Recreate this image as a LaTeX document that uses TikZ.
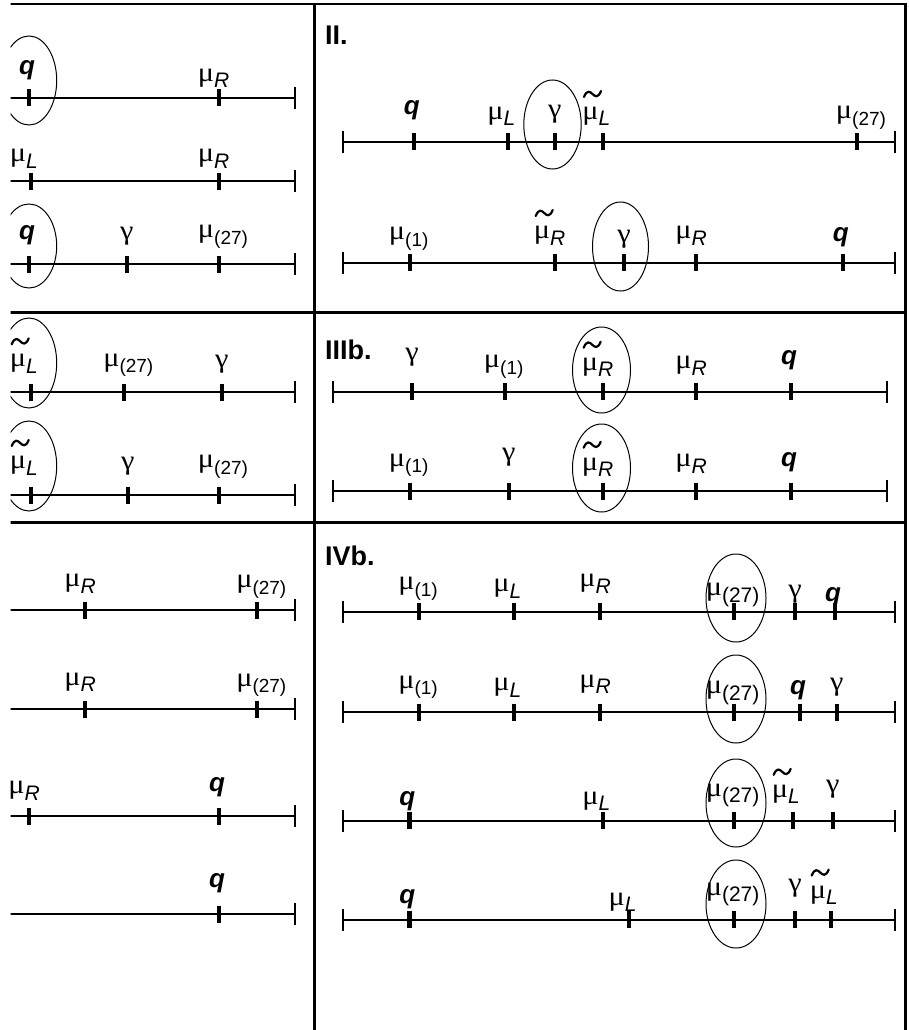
\documentclass[tikz,border=0pt]{standalone}
\usepackage{graphicx}
\usepackage{fontspec}
\setmainfont{Liberation Sans}
\newfontfamily\grk{Liberation Serif}
\newcounter{lc}
\newcommand\gfont{\grk\fontsize{27}{30}\selectfont}
\newcommand\qfont{\fontsize{26}{30}\selectfont\bfseries\itshape}
\newcommand\lfont{\fontsize{21}{24}\selectfont\itshape}
\newcommand\nfont{\fontsize{19}{22}\selectfont}
\newcommand\cfont{\fontsize{21}{24}\selectfont}
\newcommand\gmu{{\gfont\scalebox{1.12}[1]{μ}}}
\newcommand\ggam{{\gfont\scalebox{1.12}[1]{γ}}}
\tikzset{
  frame/.style={line width=2.5pt},
  axisline/.style={line width=2pt},
  endtick/.style={line width=1.8pt},
  mtick/.style={line width=4.2pt},
  oval/.style={line width=1pt},
  lab/.style={inner sep=0pt,outer sep=0pt,anchor=base},
  head/.style={inner sep=0pt,anchor=base west,font=\fontsize{27}{30}\selectfont\bfseries},
  tildemark/.style={line width=2.2pt,line cap=round},
}
\newcommand\axL[1]{\draw[axisline] (10,#1) -- (294.7,#1); \draw[endtick] (294.7,#1-11) -- (294.7,#1+11);}
\newcommand\axR[3]{\draw[axisline] (#2,#1) -- (#3,#1); \draw[endtick] (#2,#1-11) -- (#2,#1+11); \draw[endtick] (#3,#1-11) -- (#3,#1+11);}
\newcommand\tk[2]{\draw[mtick] (#1,#2-8.5) -- (#1,#2+8.5);}
\newcommand\ov[4]{\draw[oval] (#1,#2) ellipse [x radius=#3pt, y radius=#4pt];}
\newcommand\Lq[3]{\tk{#1}{#2}\stepcounter{lc}\node[lab,font=\qfont] (n\thelc) at (#1-2,#2-#3-5.5) {q};}
\newcommand\Lg[3]{\tk{#1}{#2}\stepcounter{lc}\node[lab] (n\thelc) at (#1,#2-#3-5.8) {\ggam};}
\newcommand\Lm[4]{\tk{#1}{#2}\stepcounter{lc}\node[lab] (n\thelc) at (#1-4.5,#2-#3-6.5) {\makebox[0pt][r]{\gmu}\makebox[0pt][l]{\raisebox{-6.5pt}{\lfont #4}}};}
\newcommand\Ln[4]{\tk{#1}{#2}\stepcounter{lc}\node[lab] (n\thelc) at (#1-4.5,#2-#3-10.5) {\makebox[0pt][r]{\gmu}\makebox[0pt][l]{\raisebox{-6.5pt}{\nfont (#4)}}};}
\newcommand\Lc[3]{\tk{#1}{#2}\stepcounter{lc}\node[lab] (n\thelc) at (#1-12,#2-#3-11) {\makebox[0pt][r]{\gmu}\makebox[0pt][l]{\raisebox{-6.5pt}{\cfont (27)}}};}
\newcommand\Lt[4]{\Lm{#1}{#2}{#3}{#4}\draw[tildemark] (#1-19,#2-#3-32+3) .. controls (#1-16,#2-#3-32-4.5) and (#1-13,#2-#3-32-2.5) .. (#1-10.5,#2-#3-32) .. controls (#1-8,#2-#3-32+2.5) and (#1-5,#2-#3-32+4.5) .. (#1-2,#2-#3-32-3);}
\begin{document}
\begin{tikzpicture}[x=1pt,y=-1pt]
\useasboundingbox (0,0) rectangle (909,1030);
\begin{scope}
\clip (10.5,-1) rectangle (910,1031);
% frame
\draw[frame] (10,4) -- (906.8,4);
\draw[frame] (314.5,4) -- (314.5,1031);
\draw[frame] (905.5,4) -- (905.5,1031);
\draw[frame] (10,312.5) -- (905.5,312.5);
\draw[frame] (10,522.5) -- (905.5,522.5);
% Panel I (left)
\axL{97.7}\Lq{29}{97.7}{17.7}\Lm{218.7}{97.7}{10}{R}
\ov{29}{80.5}{27.7}{44.5}
\axL{181}\Lm{30.7}{181}{12.7}{L}\Lm{218.7}{181}{12.7}{R}
\axL{264}\Lq{29}{264}{19}\Lg{126.7}{264}{19}\Ln{218.7}{264}{15.7}{27}
\ov{29}{246}{27.7}{42}
% Panel III (left)
\axL{392.3}\Lt{30.7}{392.3}{19}{L}\Ln{124}{392.3}{15.7}{27}\Lg{221.7}{392.3}{19}
\ov{29}{363}{27.7}{45}
\axL{495}\Lt{30.7}{495}{20}{L}\Lg{127.7}{495}{20}\Ln{218.7}{495}{16.7}{27}
\ov{29}{466}{27.7}{45}
% Panel IV (left)
\axL{610}\Lm{85}{610}{16.7}{R}\Ln{257}{610}{11.7}{27}
\axL{709}\Lm{85}{709}{17.3}{R}\Ln{257}{709}{12.3}{27}
\axL{816}\Lm{29}{816}{16}{R}\Lq{219}{816}{19.3}
\axL{914}\Lq{219}{914}{21}
% Panel II
\node[head] (hII) at (325,44.3) {II.};
\axR{141.7}{343}{895}
\Lq{413.7}{141.7}{21.7}\Lm{508}{141.7}{15.7}{L}\Lg{554.7}{141.7}{18.4}\Lt{603}{141.7}{15.7}{L}\Ln{856.7}{141.7}{12.4}{27}
\ov{552.5}{124.5}{28.7}{44.5}
\axR{262.7}{343}{895}
\Ln{409.7}{262.7}{12.7}{1}\Lt{554.7}{262.7}{17.7}{R}\Lg{624}{262.7}{14.4}\Lm{696}{262.7}{17.7}{R}\Lq{842.7}{262.7}{16}
\ov{620.5}{246.5}{28}{44.5}
% Panel IIIb
\node[head] (hIII) at (325,359) {IIIb.};
\axR{391.7}{333}{887}
\Lg{412}{391.7}{25}\Ln{504.7}{391.7}{13.4}{1}\Lt{602.7}{391.7}{15}{R}\Lm{696}{391.7}{16.7}{R}\Lq{791}{391.7}{21.7}
\ov{601.5}{370}{29}{43}
\axR{491}{333}{887}
\Ln{409.7}{491}{14.3}{1}\Lg{508.7}{491}{24.3}\Lt{602.7}{491}{14.3}{R}\Lm{696}{491}{18}{R}\Lq{791}{491}{19.3}
\ov{601.5}{468}{29}{44}
% Panel IVb
\node[head] (hIV) at (325,565) {IVb.};
\axR{611.7}{343}{895}
\Ln{419}{611.7}{11.7}{1}\Lm{514}{611.7}{13.7}{L}\Lm{600}{611.7}{18.7}{R}\Lc{734}{611.7}{5}\Lg{795}{611.7}{8.4}\Lq{835}{611.7}{5}
\ov{736}{598}{30}{44}
\axR{712.2}{343}{895}
\Ln{419}{712.2}{13.4}{1}\Lm{514}{712.2}{15}{L}\Lm{600}{712.2}{18.7}{R}\Lc{734}{712.2}{7.7}\Lq{800}{712.2}{12.7}\Lg{836.7}{712.2}{16}
\ov{736}{699}{30}{44}
\axR{820.5}{343}{895}
\Lq{409.4}{820.5}{10}\Lm{603}{820.5}{10}{L}\Lc{734}{820.5}{13.3}\Lt{792.7}{820.5}{16.7}{L}\Lg{832.7}{820.5}{22}
\ov{736}{803}{30}{44}
\axR{919.5}{343}{895}
\Lq{409.4}{919.5}{11}\Lm{629.3}{919.5}{8}{L}\Lc{734}{919.5}{13.3}\Lg{795}{919.5}{22}\Lt{830.7}{919.5}{15}{L}
\ov{736}{904}{30}{44}
\end{scope}
\end{tikzpicture}
\end{document}
